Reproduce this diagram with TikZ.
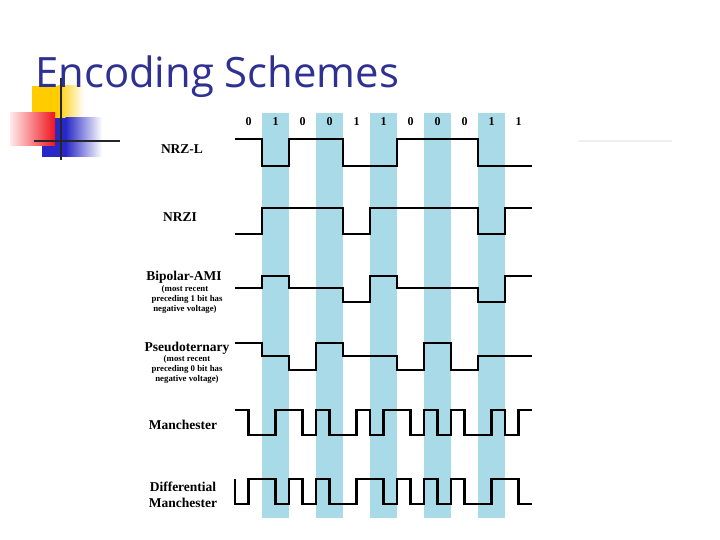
\documentclass[tikz,border=0pt]{standalone}
\usepackage{fontspec}
\setmainfont{Liberation Serif}
\newfontfamily\titlefont{Open Sans}
\definecolor{stripe}{RGB}{168,218,232}
\definecolor{titleblue}{RGB}{46,49,146}
\definecolor{logoyellow}{RGB}{255,204,0}
\definecolor{logoblue}{RGB}{40,40,200}
\definecolor{logored}{RGB}{240,20,30}
\tikzset{
  wave/.style={line width=2.6pt, line join=miter, black},
  lbl/.style={font=\fontsize{13.5}{14}\selectfont\bfseries, inner sep=0pt, anchor=center},
  sublbl/.style={font=\fontsize{8.8}{9}\selectfont\bfseries, inner sep=0pt, anchor=center},
  bitlbl/.style={font=\fontsize{12}{12}\selectfont\bfseries, inner sep=0pt, anchor=center},
}
\begin{document}
\begin{tikzpicture}[x=1pt,y=-1pt]
\useasboundingbox (0,0) rectangle (720,540);
\fill[white] (0,0) rectangle (720,540);
% logo
\fill[logoyellow] (32,86) rectangle (58,118);
\shade[left color=logoyellow, right color=white] (57.5,86) rectangle (84,118);
\fill[logoblue] (42,118) rectangle (66,157);
\shade[left color=logoblue, right color=white] (65.5,118) rectangle (102,157);
\shade[left color=red!8, right color=logored] (10,113) rectangle (55,146);
\draw[line width=2.2pt, black!85] (61,78) -- (61,160);
\draw[line width=2.2pt, black!85] (34,141) -- (120,141);
\draw[line width=2pt, black!6] (578,141) -- (672,141);
% title
\node[anchor=base west, inner sep=0pt, text=titleblue, font=\titlefont\fontsize{41.8}{44}\selectfont] (title) at (35,88) {Encoding Schemes};
% stripes
\foreach \i in {1,3,5,7,9} {
  \fill[stripe] ({235+27*\i},113) rectangle ({262+27*\i},518);
}
% bit labels
\foreach \b [count=\i from 0] in {0,1,0,0,1,1,0,0,0,1,1} {
  \node[bitlbl] (bit\i) at ({248.5+27*\i},122) {\b};
}
% labels
\node[lbl] (nrzl) at (182,149) {NRZ-L};
\node[lbl] (nrzi) at (180,217) {NRZI};
\node[lbl] (ami) at (184,277) {Bipolar-AMI};
\node[sublbl] (ami1) at (185,289) {(most recent};
\node[sublbl] (ami2) at (187,299) {preceding 1 bit has};
\node[sublbl] (ami3) at (185,309) {negative voltage)};
\node[lbl] (pseudo) at (187,348) {Pseudoternary};
\node[sublbl] (ps1) at (187,359) {(most recent};
\node[sublbl] (ps2) at (187,369) {preceding 0 bit has};
\node[sublbl] (ps3) at (187,379) {negative voltage)};
\node[lbl] (man) at (183,425) {Manchester};
\node[lbl] (dman1) at (183,487) {Differential};
\node[lbl] (dman2) at (183,503) {Manchester};
% NRZ-L
\draw[wave] (235,139) -- (262,139) -- (262,166) -- (289,166) -- (289,139) -- (343,139) -- (343,166) -- (397,166) -- (397,139) -- (478,139) -- (478,166) -- (532,166);
% NRZI
\draw[wave] (235,234) -- (262,234) -- (262,208) -- (343,208) -- (343,234) -- (370,234) -- (370,208) -- (478,208) -- (478,234) -- (505,234) -- (505,208) -- (532,208);
% Bipolar-AMI
\draw[wave] (235,288) -- (262,288) -- (262,276) -- (289,276) -- (289,288) -- (343,288) -- (343,302) -- (370,302) -- (370,276) -- (397,276) -- (397,288) -- (478,288) -- (478,302) -- (505,302) -- (505,276) -- (532,276);
% Pseudoternary
\draw[wave] (235,343) -- (262,343) -- (262,356) -- (289,356) -- (289,370) -- (316,370) -- (316,343) -- (343,343) -- (343,356) -- (397,356) -- (397,370) -- (424,370) -- (424,343) -- (451,343) -- (451,370) -- (478,370) -- (478,356) -- (532,356);
% Manchester
\draw[wave] (235,410) -- (248.5,410) -- (248.5,435) -- (275.5,435) -- (275.5,410) -- (302.5,410) -- (302.5,435) -- (316,435) -- (316,410) -- (329.5,410) -- (329.5,435) -- (356.5,435) -- (356.5,410) -- (370,410) -- (370,435) -- (383.5,435) -- (383.5,410) -- (410.5,410) -- (410.5,435) -- (424,435) -- (424,410) -- (437.5,410) -- (437.5,435) -- (451,435) -- (451,410) -- (464.5,410) -- (464.5,435) -- (491.5,435) -- (491.5,410) -- (505,410) -- (505,435) -- (518.5,435) -- (518.5,410) -- (532,410);
% Differential Manchester
\draw[wave] (235,479) -- (235,504) -- (248.5,504) -- (248.5,479) -- (275.5,479) -- (275.5,504) -- (289,504) -- (289,479) -- (302.5,479) -- (302.5,504) -- (316,504) -- (316,479) -- (329.5,479) -- (329.5,504) -- (356.5,504) -- (356.5,479) -- (383.5,479) -- (383.5,504) -- (397,504) -- (397,479) -- (410.5,479) -- (410.5,504) -- (424,504) -- (424,479) -- (437.5,479) -- (437.5,504) -- (451,504) -- (451,479) -- (464.5,479) -- (464.5,504) -- (491.5,504) -- (491.5,479) -- (518.5,479) -- (518.5,504) -- (532,504);
\end{tikzpicture}
\end{document}
